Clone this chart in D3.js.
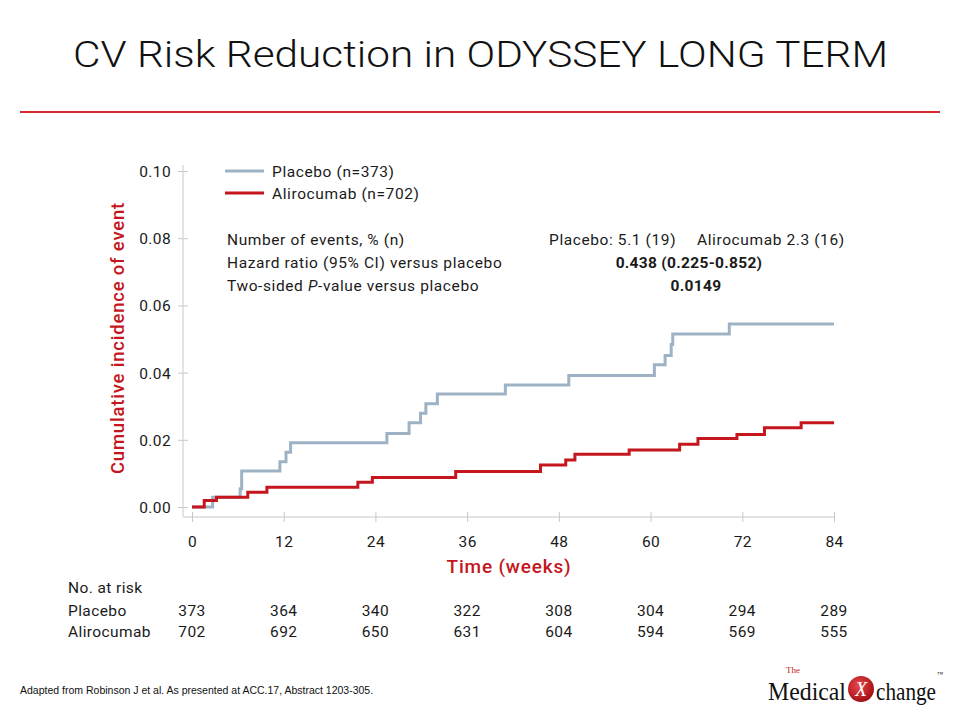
<!DOCTYPE html>
<html>
<head>
<meta charset="utf-8">
<script src="https://cdn.jsdelivr.net/npm/d3@7"></script>
<style>
  html, body { margin: 0; padding: 0; background: #fff; }
  svg { display: block; }
</style>
</head>
<body>
<svg id="chart" width="960" height="720" style="font-family: Roboto, 'DejaVu Sans', sans-serif;"></svg>
<script>
// ---------- data ----------
const placeboWeeks = [0, 2.7, 6.3, 6.5, 11.5, 12.3, 12.9, 25.5, 28.4, 29.9, 30.6, 32.1, 41.0, 49.3, 60.5, 61.9, 62.7, 62.9, 70.3, 84];
const placeboIncidence = [0, 0.0029, 0.0054, 0.0107, 0.0135, 0.0163, 0.0191, 0.0219, 0.0251, 0.0279, 0.0307, 0.0336, 0.0363, 0.0391, 0.0423, 0.0451, 0.0484, 0.0515, 0.0545, 0.0545];
const alirocumabWeeks = [0, 1.6, 3.2, 7.3, 9.8, 21.7, 23.6, 34.5, 45.6, 48.9, 50.1, 57.2, 63.8, 66.2, 71.3, 74.9, 79.7, 84];
const alirocumabIncidence = [0, 0.0019, 0.0029, 0.0044, 0.0059, 0.0074, 0.0088, 0.0106, 0.0125, 0.0140, 0.0157, 0.0170, 0.0187, 0.0204, 0.0216, 0.0236, 0.0251, 0.0251];
const xTicks = [0, 12, 24, 36, 48, 60, 72, 84];
const yTicks = [0, 0.02, 0.04, 0.06, 0.08, 0.10];
const riskPlacebo = [373, 364, 340, 322, 308, 304, 294, 289];
const riskAlirocumab = [702, 692, 650, 631, 604, 594, 569, 555];
const seriesNames = ["Placebo (n=373)", "Alirocumab (n=702)"];

const RED = "#c4161c";
const BLUE = "#9db3c5";
const TEXT = "#1a1a1a";
const LS = 0.6; // letter spacing to mimic DIN width
const SANS = "Roboto, 'DejaVu Sans', sans-serif";
const SERIF = "'Liberation Serif', 'DejaVu Serif', serif";

const svg = d3.select("#chart");

// title
svg.append("text").attr("x", 73).attr("y", 67)
  .attr("font-size", 37).attr("font-weight", 300).attr("fill", "#111")
  .attr("textLength", 815).attr("lengthAdjust", "spacingAndGlyphs")
  .text("CV Risk Reduction in ODYSSEY LONG TERM");
svg.append("line").attr("x1", 20).attr("x2", 940).attr("y1", 112).attr("y2", 112)
  .attr("stroke", "#d42a2f").attr("stroke-width", 2);

// scales
const x = d3.scaleLinear().domain([0, 84]).range([192, 834]);
const y = d3.scaleLinear().domain([0, 0.10]).range([507, 171]);

// axes
const axisColor = "#c8c8c8";
const yAxis = svg.append("g").attr("transform", "translate(183,0)")
  .call(d3.axisLeft(y).tickValues(yTicks).tickFormat(d3.format(".2f")).tickSize(5).tickPadding(7));
yAxis.attr("font-family", SANS);
yAxis.select(".domain").remove();
yAxis.selectAll(".tick line").attr("x1", -5).attr("x2", 5).attr("stroke", axisColor);
yAxis.selectAll(".tick text").attr("font-size", 15.5).attr("fill", TEXT)
  .attr("dy", "0.36em").attr("x", -12).attr("letter-spacing", 0.4);
svg.append("line").attr("x1", 183).attr("x2", 183).attr("y1", 165).attr("y2", 517).attr("stroke", axisColor);

const xAxis = svg.append("g").attr("transform", "translate(0,517)")
  .call(d3.axisBottom(x).tickValues(xTicks).tickSize(5).tickPadding(14));
xAxis.attr("font-family", SANS);
xAxis.select(".domain").remove();
xAxis.selectAll(".tick line").attr("y1", -5).attr("y2", 5).attr("stroke", axisColor);
xAxis.selectAll(".tick text").attr("font-size", 15.5).attr("fill", TEXT).attr("letter-spacing", 0.4);
svg.append("line").attr("x1", 183).attr("x2", 834).attr("y1", 517).attr("y2", 517).attr("stroke", axisColor);

// axis titles
svg.append("text").attr("transform", "translate(124,338) rotate(-90)")
  .attr("text-anchor", "middle").attr("font-size", 18.5).attr("font-weight", 500)
  .attr("letter-spacing", 0.8)
  .attr("fill", RED).text("Cumulative incidence of event");
svg.append("text").attr("x", 509).attr("y", 573).attr("text-anchor", "middle")
  .attr("font-size", 19).attr("font-weight", 500).attr("letter-spacing", 0.8)
  .attr("fill", RED).text("Time (weeks)");

// curves
const line = d3.line().x(d => x(d[0])).y(d => y(d[1])).curve(d3.curveStepAfter);
const placeboData = placeboWeeks.map((w, i) => [w, placeboIncidence[i]]);
const aliroData = alirocumabWeeks.map((w, i) => [w, alirocumabIncidence[i]]);
svg.append("path").datum(placeboData).attr("d", line)
  .attr("fill", "none").attr("stroke", BLUE).attr("stroke-width", 3);
svg.append("path").datum(aliroData).attr("d", line)
  .attr("fill", "none").attr("stroke", RED).attr("stroke-width", 3);

// legend
const legColors = [BLUE, RED];
seriesNames.forEach((n, i) => {
  const ly = 171 + i * 22;
  svg.append("line").attr("x1", 225).attr("x2", 264).attr("y1", ly).attr("y2", ly)
    .attr("stroke", legColors[i]).attr("stroke-width", 3);
  svg.append("text").attr("x", 272).attr("y", ly + 5.5).attr("font-size", 15.5)
    .attr("letter-spacing", LS).attr("fill", TEXT).text(n);
});

// stats annotation
const stats = svg.append("g").attr("font-size", 15.5).attr("fill", TEXT).attr("letter-spacing", LS);
stats.append("text").attr("x", 227).attr("y", 245).text("Number of events, % (n)");
stats.append("text").attr("x", 227).attr("y", 268).text("Hazard ratio (95% CI) versus placebo");
const pv = stats.append("text").attr("x", 227).attr("y", 291);
pv.append("tspan").text("Two-sided ");
pv.append("tspan").attr("font-style", "italic").text("P");
pv.append("tspan").text("-value versus placebo");
stats.append("text").attr("x", 549).attr("y", 245).text("Placebo: 5.1 (19)");
stats.append("text").attr("x", 697).attr("y", 245).text("Alirocumab 2.3 (16)");
stats.append("text").attr("x", 689).attr("y", 268).attr("text-anchor", "middle")
  .attr("font-weight", 700).attr("letter-spacing", 0.3).text("0.438 (0.225-0.852)");
stats.append("text").attr("x", 696).attr("y", 291).attr("text-anchor", "middle")
  .attr("font-weight", 700).attr("letter-spacing", 0.3).text("0.0149");

// risk table
const risk = svg.append("g").attr("font-size", 15.5).attr("fill", TEXT).attr("letter-spacing", 0.4);
risk.append("text").attr("x", 68).attr("y", 593).text("No. at risk");
risk.append("text").attr("x", 68).attr("y", 616).text("Placebo");
risk.append("text").attr("x", 68).attr("y", 637).text("Alirocumab");
risk.selectAll(".rp").data(riskPlacebo).join("text")
  .attr("x", (d, i) => x(xTicks[i])).attr("y", 616).attr("text-anchor", "middle").text(d => d);
risk.selectAll(".ra").data(riskAlirocumab).join("text")
  .attr("x", (d, i) => x(xTicks[i])).attr("y", 637).attr("text-anchor", "middle").text(d => d);

// footnote
svg.append("text").attr("x", 20).attr("y", 694).attr("font-size", 10.5)
  .attr("font-family", "'Liberation Sans', Arial, sans-serif").attr("fill", "#111")
  .text("Adapted from Robinson J et al. As presented at ACC.17, Abstract 1203-305.");

// logo
const logo = svg.append("g").attr("font-family", SERIF);
logo.append("text").attr("x", 786).attr("y", 673).attr("font-size", 9).attr("fill", RED).text("The");
logo.append("text").attr("x", 768).attr("y", 700).attr("font-size", 25).attr("fill", "#111")
  .attr("textLength", 78).attr("lengthAdjust", "spacingAndGlyphs").text("Medical");
const grad = svg.append("defs").append("radialGradient").attr("id", "lg").attr("cx", "40%").attr("cy", "35%").attr("r", "65%");
grad.append("stop").attr("offset", "0%").attr("stop-color", "#e8474a");
grad.append("stop").attr("offset", "100%").attr("stop-color", "#a30f14");
logo.append("circle").attr("cx", 861).attr("cy", 689).attr("r", 13).attr("fill", "url(#lg)");
logo.append("text").attr("x", 861).attr("y", 696).attr("text-anchor", "middle").attr("font-size", 20)
  .attr("font-style", "italic").attr("fill", "#fff").text("X");
logo.append("text").attr("x", 876).attr("y", 700).attr("font-size", 25).attr("fill", "#111")
  .attr("textLength", 60).attr("lengthAdjust", "spacingAndGlyphs").text("change");
logo.append("text").attr("x", 937).attr("y", 676).attr("font-size", 6).attr("fill", "#111").text("™");
</script>
</body>
</html>
